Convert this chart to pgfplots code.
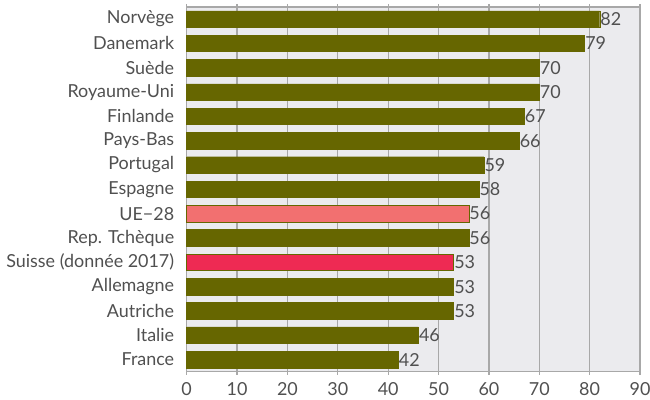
\documentclass[border=0pt]{standalone}
\usepackage{pgfplots}
\pgfplotsset{compat=1.18}
\usepackage{fontspec}
\setmainfont{Lato}
\definecolor{olivebar}{HTML}{666600}
\definecolor{ue}{HTML}{F27070}
\definecolor{ch}{HTML}{EE2A53}
\definecolor{bg}{HTML}{EBEBEE}
\definecolor{gridc}{HTML}{A8A8A8}
\definecolor{txt}{HTML}{505050}
\begin{document}
\begin{tikzpicture}
\begin{axis}[
  at={(0,0)}, anchor=south west,
  scale only axis, width=453.3bp, height=364.8bp,
  xmin=0, xmax=90, ymin=-0.5, ymax=14.5, y dir=reverse,
  axis background/.style={fill=bg},
  xtick={0,10,...,90},
  ytick={0,...,14},
  yticklabels={Norvège,Danemark,Suède,Royaume-Uni,Finlande,Pays-Bas,Portugal,Espagne,UE−28,Rep. Tchèque,Suisse (donnée 2017),Allemagne,Autriche,Italie,France},
  xmajorgrids, grid style={gridc, line width=1.2bp},
  axis line style={gridc, line width=1.5bp},
  ytick style={draw=none},
  xtick style={gridc, line width=1.2bp},
  tick align=outside, major tick length=3bp,
  x tick label style={font=\fontsize{18}{20}\selectfont, text=txt},
  y tick label style={font=\fontsize{18}{20}\selectfont, text=txt},
  /pgf/number format/assume math mode=true,
  xticklabel shift=4bp,
  yticklabel shift=6bp,
  bar width=0.68,
  clip=false,
  point meta=x,
  nodes near coords,
  nodes near coords style={font=\fontsize{18}{20}\selectfont, text=txt, anchor=west, inner xsep=0.5bp},
]
\addplot[xbar, fill=olivebar, draw=olivebar] coordinates {
(82,0) (79,1) (70,2) (70,3) (67,4) (66,5) (59,6) (58,7) (56,9) (53,11) (53,12) (46,13) (42,14)};
\addplot[xbar, fill=ue, draw=olivebar] coordinates {(56,8)};
\addplot[xbar, fill=ch, draw=olivebar] coordinates {(53,10)};
\end{axis}
\pgfresetboundingbox
\path[use as bounding box] (-186.7bp,-28.3bp) rectangle (463.3bp,371.7bp);
\end{tikzpicture}
\end{document}
